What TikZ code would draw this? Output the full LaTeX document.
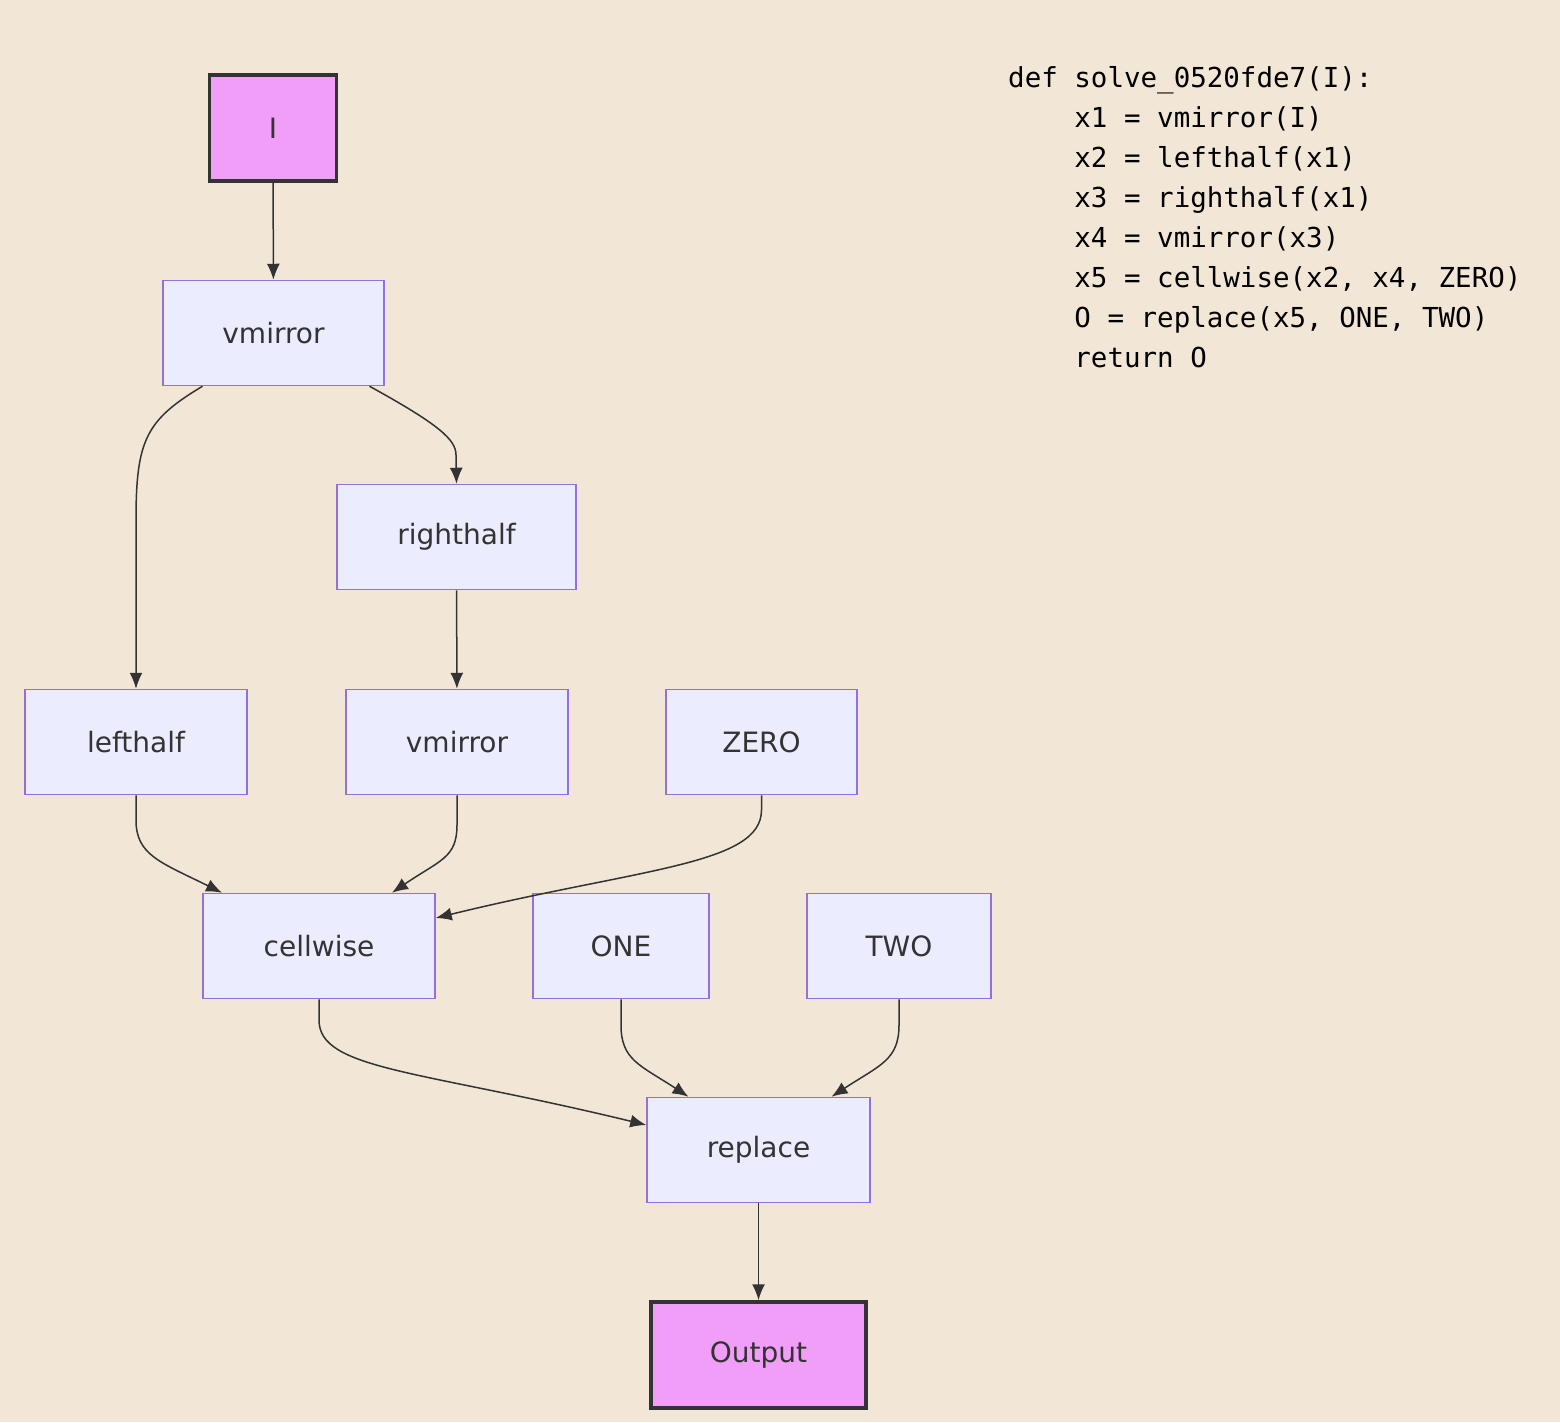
\documentclass[tikz,border=0pt]{standalone}
\usepackage{fontspec}
\setmainfont{DejaVu Sans}
\setmonofont{DejaVu Sans Mono}
\usetikzlibrary{arrows.meta,calc}
\definecolor{bg}{HTML}{F2E7D6}
\definecolor{boxf}{HTML}{ECECFF}
\definecolor{boxd}{HTML}{9370DB}
\definecolor{term}{HTML}{F09EF8}
\definecolor{ln}{HTML}{333333}
\begin{document}
\begin{tikzpicture}[x=1pt,y=-1pt,
  box/.style={draw=boxd,fill=boxf,line width=1.5pt,inner sep=0pt,font=\fontsize{28}{32}\selectfont,text=ln},
  tbox/.style={draw=ln,fill=term,line width=3.5pt,inner sep=0pt,font=\fontsize{28}{32}\selectfont,text=ln},
  conn/.style={draw=ln,line width=1.5pt,-{Latex[length=16pt,width=13pt]}}]
\fill[bg] (0,0) rectangle (1560,1422);
\useasboundingbox (0,0) rectangle (1560,1422);
\node[tbox,minimum width=127,minimum height=106] (I) at (273,128) {I};
\node[box,minimum width=221,minimum height=105] (v1) at (273.5,333) {vmirror};
\node[box,minimum width=239,minimum height=105] (rh) at (456.5,537) {righthalf};
\node[box,minimum width=222,minimum height=105] (lh) at (136,742) {lefthalf};
\node[box,minimum width=222,minimum height=105] (v2) at (457,742) {vmirror};
\node[box,minimum width=191,minimum height=105] (zero) at (761.5,742) {ZERO};
\node[box,minimum width=232,minimum height=105] (cw) at (319,946) {cellwise};
\node[box,minimum width=176,minimum height=105] (one) at (621,946) {ONE};
\node[box,minimum width=184,minimum height=105] (two) at (899,946) {TWO};
\node[box,minimum width=223,minimum height=105] (rep) at (758.5,1150) {replace};
\node[tbox,minimum width=215,minimum height=106] (out) at (758.5,1355) {Output};
\draw[conn] (I) -- (v1);
\draw[conn] ($(v1.south)+(-71,0)$) .. controls (146,420) and (136,440) .. (136,520) -- (lh.north -| 136,0);
\draw[conn] ($(v1.south)+(96,0)$) .. controls (440,425) and (456,440) .. (456,455) -- (rh.north);
\draw[conn] (rh) -- (v2);
\draw[conn] (lh.south) -- (136,820) .. controls (136,855) and (160,862) .. ($(cw.north)+(-97,0)$);
\draw[conn] (v2.south) -- (457,825) .. controls (457,858) and (440,860) .. ($(cw.north)+(73,0)$);
\draw[conn] (zero.south) -- (761.5,810) .. controls (761.5,865) and (640,868) .. ($(cw.east)+(0,-28)$);
\draw[conn] (cw.south) -- (319,1020) .. controls (319,1070) and (420,1070) .. ($(rep.west)+(0,-25)$);
\draw[conn] (one.south) -- (621,1025) .. controls (621,1060) and (640,1065) .. ($(rep.north)+(-70,0)$);
\draw[conn] (two.south) -- (899,1025) .. controls (899,1060) and (880,1065) .. ($(rep.north)+(73,0)$);
\draw[conn] (rep) -- (out);
\node[anchor=north west,inner sep=0pt,font=\fontsize{27.5}{40}\selectfont\ttfamily,align=left,text=black] (code) at (1008,66) {def solve\_0520fde7(I):\\
\phantom{0000}x1 = vmirror(I)\\
\phantom{0000}x2 = lefthalf(x1)\\
\phantom{0000}x3 = righthalf(x1)\\
\phantom{0000}x4 = vmirror(x3)\\
\phantom{0000}x5 = cellwise(x2, x4, ZERO)\\
\phantom{0000}O = replace(x5, ONE, TWO)\\
\phantom{0000}return O};
\end{tikzpicture}
\end{document}
